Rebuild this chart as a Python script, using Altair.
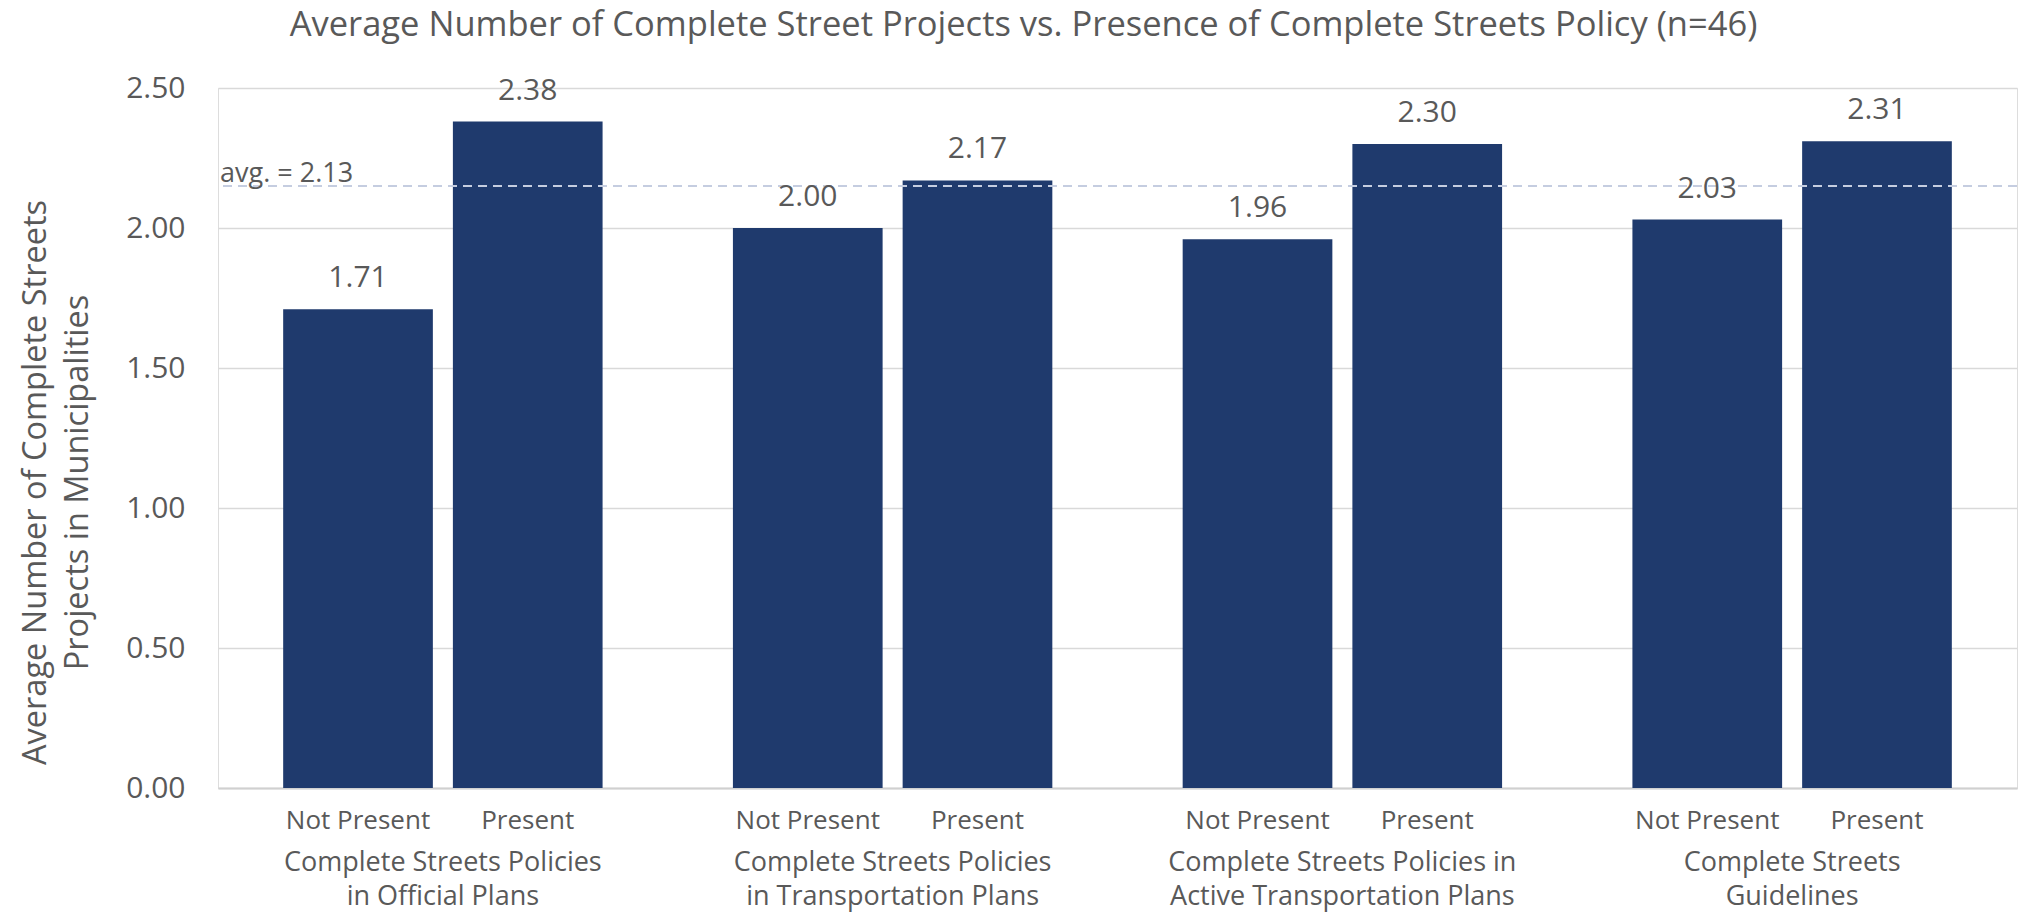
import altair as alt
import pandas as pd

groups = [
    "Complete Streets Policies|in Official Plans",
    "Complete Streets Policies|in Transportation Plans",
    "Complete Streets Policies in|Active Transportation Plans",
    "Complete Streets|Guidelines",
]
presence = ["Not Present", "Present"]
not_present_vals = [1.71, 2.00, 1.96, 2.03]
present_vals = [2.38, 2.17, 2.30, 2.31]
avg_value = 2.15
avg_label = "avg. = 2.13"
y_ticks = [0, 0.5, 1.0, 1.5, 2.0, 2.5]
title_text = "Average Number of Complete Street Projects vs. Presence of Complete Streets Policy (n=46)"
y_title = ["Average Number of Complete Streets", "Projects in Municipalities"]

rows = []
for g, a, b in zip(groups, not_present_vals, present_vals):
    rows.append({"group": g, "presence": presence[0], "value": a})
    rows.append({"group": g, "presence": presence[1], "value": b})
df = pd.DataFrame(rows)
avg_df = pd.DataFrame({"avg": [avg_value], "label": [avg_label]})

FONT = "Open Sans"
GREY = "#595959"
BAR = "#1F3A6D"

yscale = alt.Scale(domain=[0, 2.5], nice=False)

base = alt.Chart(df).encode(
    x=alt.X(
        "group:N",
        sort=groups,
        scale=alt.Scale(paddingInner=0, paddingOuter=0),
        axis=alt.Axis(
            title=None,
            labelAngle=0,
            labelExpr="split(datum.label, '|')",
            labelFontSize=27,
            labelLineHeight=34,
            labelColor=GREY,
            labelFont=FONT,
            labelPadding=61,
            labelLimit=0,
            ticks=False,
            domain=True,
            domainColor="#D0D0D0",
            domainWidth=2,
        ),
    ),
    xOffset=alt.XOffset(
        "presence:N",
        sort=presence,
        scale=alt.Scale(paddingInner=0.118, paddingOuter=0.384),
    ),
)

bars = base.mark_bar(color=BAR).encode(
    y=alt.Y(
        "value:Q",
        scale=yscale,
        axis=alt.Axis(
            values=y_ticks,
            format=".2f",
            title=y_title,
            titleFontSize=32.5,
            titleFontWeight="normal",
            titleColor=GREY,
            titleFont=FONT,
            titleLineHeight=42,
            titlePadding=31,
            titleY=394,
            labelFontSize=30,
            labelColor=GREY,
            labelFont=FONT,
            labelPadding=33,
            ticks=False,
            domain=False,
            grid=True,
            gridColor="#D9D9D9",
            gridWidth=1.5,
        ),
    )
)

value_labels = base.mark_text(
    baseline="bottom", dy=-16, fontSize=30, color=GREY, font=FONT
).encode(y=alt.Y("value:Q", scale=yscale), text=alt.Text("value:Q", format=".2f"))

presence_labels = base.mark_text(
    baseline="middle", dy=33, fontSize=26, color=GREY, font=FONT
).encode(y=alt.datum(0, scale=yscale), text="presence:N")

avg_rule = alt.Chart(avg_df).mark_rule(
    strokeDash=[9, 6], color="#C5CDE0", strokeWidth=2
).encode(y=alt.Y("avg:Q", scale=yscale))

avg_text = alt.Chart(avg_df).mark_text(
    align="left", baseline="alphabetic", dy=-4, dx=2, fontSize=27, color=GREY, font=FONT
).encode(y=alt.Y("avg:Q", scale=yscale), x=alt.value(0), text="label:N")

chart = (
    alt.layer(bars, avg_rule, avg_text, value_labels, presence_labels)
    .properties(
        width=1799,
        height=700,
        autosize=alt.AutoSizeParams(type="none"),
        padding={"left": 218, "top": 88, "right": 19, "bottom": 130},
        title=alt.TitleParams(
            text=title_text,
            fontSize=34.5,
            font=FONT,
            fontWeight="normal",
            color=GREY,
            anchor="middle",
            dx=-94,
            offset=30,
        ),
    )
    .configure_view(stroke=None)
    .configure(background="white")
)

chart.save("out.html", embed_options={"renderer": "svg", "actions": False})
